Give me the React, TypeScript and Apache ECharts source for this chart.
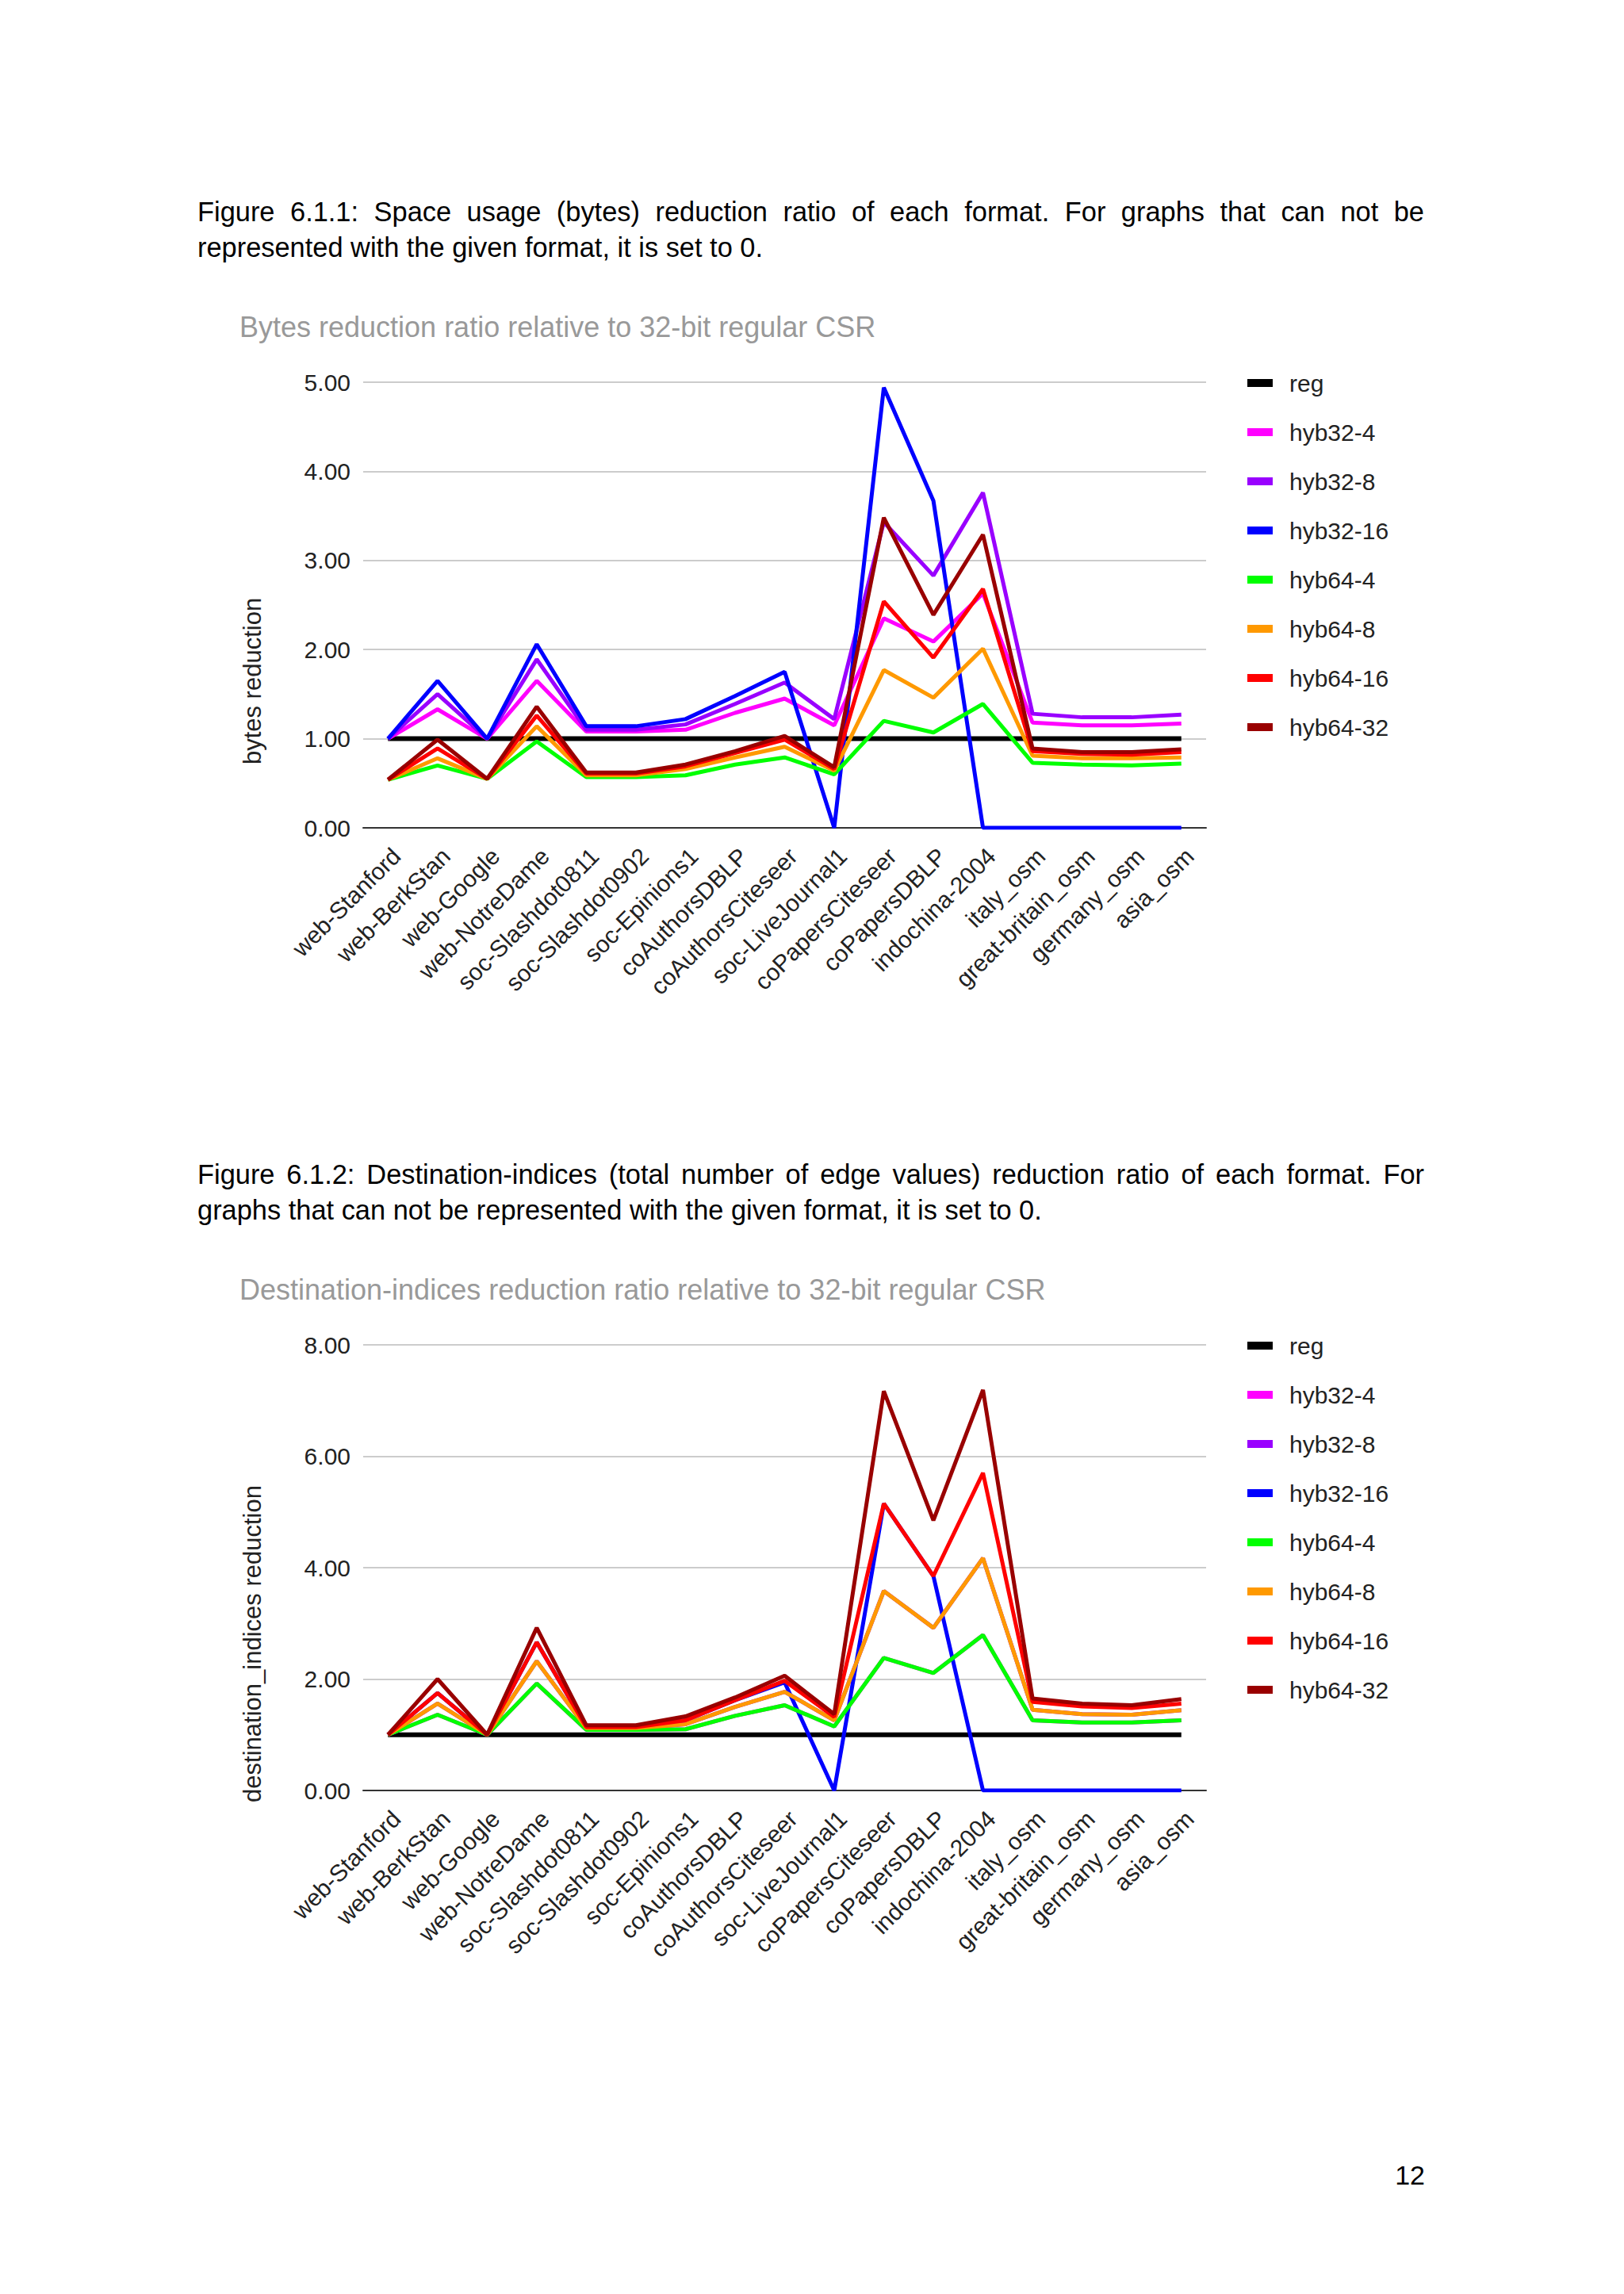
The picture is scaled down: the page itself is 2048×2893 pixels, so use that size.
import React, { useEffect, useRef } from 'react';
import * as echarts from 'echarts';

const FONT = '"Liberation Sans", Arial, sans-serif';

const categories = [
  'web-Stanford', 'web-BerkStan', 'web-Google', 'web-NotreDame', 'soc-Slashdot0811',
  'soc-Slashdot0902', 'soc-Epinions1', 'coAuthorsDBLP', 'coAuthorsCiteseer', 'soc-LiveJournal1',
  'coPapersCiteseer', 'coPapersDBLP', 'indochina-2004', 'italy_osm', 'great-britain_osm',
  'germany_osm', 'asia_osm',
];

const seriesNames = ['reg', 'hyb32-4', 'hyb32-8', 'hyb32-16', 'hyb64-4', 'hyb64-8', 'hyb64-16', 'hyb64-32'];
const seriesColors = ['#000000', '#ff00ff', '#9900ff', '#0000ff', '#00ff00', '#ff9900', '#ff0000', '#990000'];

// Figure 6.1.1 - bytes reduction
const bytesReg = [1, 1, 1, 1, 1, 1, 1, 1, 1, 1, 1, 1, 1, 1, 1, 1, 1];
const bytesHyb32_4 = [1.00, 1.33, 1.00, 1.65, 1.08, 1.08, 1.10, 1.29, 1.45, 1.15, 2.35, 2.09, 2.63, 1.18, 1.15, 1.15, 1.17];
const bytesHyb32_8 = [1.00, 1.50, 1.00, 1.89, 1.10, 1.10, 1.16, 1.39, 1.63, 1.22, 3.43, 2.83, 3.76, 1.28, 1.24, 1.24, 1.27];
const bytesHyb32_16 = [1.00, 1.65, 1.00, 2.06, 1.14, 1.14, 1.22, 1.48, 1.75, 0, 4.94, 3.67, 0, 0, 0, 0, 0];
const bytesHyb64_4 = [0.54, 0.70, 0.55, 0.97, 0.57, 0.57, 0.59, 0.71, 0.79, 0.60, 1.20, 1.07, 1.39, 0.73, 0.71, 0.70, 0.72];
const bytesHyb64_8 = [0.54, 0.78, 0.55, 1.14, 0.59, 0.59, 0.66, 0.79, 0.91, 0.64, 1.77, 1.46, 2.01, 0.81, 0.78, 0.78, 0.79];
const bytesHyb64_16 = [0.54, 0.89, 0.55, 1.26, 0.61, 0.61, 0.69, 0.84, 0.99, 0.66, 2.54, 1.91, 2.68, 0.86, 0.83, 0.82, 0.85];
const bytesHyb64_32 = [0.54, 0.99, 0.55, 1.36, 0.62, 0.62, 0.71, 0.86, 1.03, 0.68, 3.48, 2.39, 3.29, 0.89, 0.85, 0.85, 0.88];

// Figure 6.1.2 - destination indices reduction
const destReg = [1, 1, 1, 1, 1, 1, 1, 1, 1, 1, 1, 1, 1, 1, 1, 1, 1];
const destHyb32_4 = [1.00, 1.36, 1.00, 1.92, 1.09, 1.09, 1.10, 1.34, 1.53, 1.15, 2.38, 2.11, 2.79, 1.26, 1.22, 1.22, 1.26];
const destHyb32_8 = [1.00, 1.56, 1.00, 2.32, 1.12, 1.12, 1.19, 1.50, 1.77, 1.26, 3.58, 2.92, 4.17, 1.45, 1.37, 1.36, 1.44];
const destHyb32_16 = [1.00, 1.75, 1.00, 2.66, 1.14, 1.14, 1.26, 1.62, 1.94, 0, 5.15, 3.85, 0, 0, 0, 0, 0];
const destHyb64_4 = [1.00, 1.36, 1.00, 1.92, 1.09, 1.09, 1.10, 1.34, 1.53, 1.15, 2.38, 2.11, 2.79, 1.26, 1.22, 1.22, 1.26];
const destHyb64_8 = [1.00, 1.56, 1.00, 2.32, 1.12, 1.12, 1.19, 1.50, 1.77, 1.26, 3.58, 2.92, 4.17, 1.45, 1.37, 1.36, 1.44];
const destHyb64_16 = [1.00, 1.75, 1.00, 2.66, 1.14, 1.14, 1.26, 1.62, 1.97, 1.32, 5.15, 3.85, 5.70, 1.59, 1.51, 1.48, 1.56];
const destHyb64_32 = [1.00, 2.00, 1.00, 2.92, 1.17, 1.17, 1.33, 1.67, 2.06, 1.37, 7.17, 4.85, 7.19, 1.65, 1.56, 1.53, 1.64];

const bytesSeries = [bytesReg, bytesHyb32_4, bytesHyb32_8, bytesHyb32_16, bytesHyb64_4, bytesHyb64_8, bytesHyb64_16, bytesHyb64_32];
const destSeries = [destReg, destHyb32_4, destHyb32_8, destHyb32_16, destHyb64_4, destHyb64_8, destHyb64_16, destHyb64_32];

interface ChartProps {
  top: number;
  title: string;
  yName: string;
  yMax: number;
  yInterval: number;
  values: number[][];
}

const ReductionChart: React.FC<ChartProps> = ({ top, title, yName, yMax, yInterval, values }) => {
  const chartRef = useRef<HTMLDivElement>(null);

  useEffect(() => {
    if (!chartRef.current) return;
    const chart = echarts.init(chartRef.current, undefined, { renderer: 'svg' });

    const option: any = {
      animation: false,
      textStyle: { fontFamily: FONT },
      graphic: [
        {
          type: 'text',
          x: 302,
          y: 52,
          style: { text: title, fill: '#999999', font: `36px ${FONT}`, align: 'left', verticalAlign: 'middle' },
        },
        {
          type: 'text',
          x: 318,
          y: 499,
          rotation: Math.PI / 2,
          style: { text: yName, fill: '#222222', font: `31px ${FONT}`, align: 'center', verticalAlign: 'middle' },
        },
      ],
      legend: {
        orient: 'vertical',
        left: 1568,
        top: 103,
        itemWidth: 32,
        itemHeight: 10,
        itemGap: 32,
        icon: 'rect',
        selectedMode: false,
        textStyle: { fontSize: 30, color: '#222222', lineHeight: 30, padding: [0, 0, 0, 16], fontFamily: FONT },
        data: seriesNames,
      },
      grid: { left: 458, top: 122, width: 1063, height: 562 },
      xAxis: {
        type: 'category',
        data: categories,
        boundaryGap: true,
        axisLine: { lineStyle: { color: '#333333', width: 2 } },
        axisTick: { show: false },
        axisLabel: {
          interval: 0,
          rotate: 45,
          fontSize: 30,
          color: '#222222',
          margin: 20,
          verticalAlign: 'top',
          fontFamily: FONT,
        },
      },
      yAxis: {
        type: 'value',
        min: 0,
        max: yMax,
        interval: yInterval,
        axisLine: { show: false },
        axisTick: { show: false },
        splitLine: { lineStyle: { color: '#cccccc', width: 2 } },
        axisLabel: {
          fontSize: 30,
          color: '#222222',
          margin: 16,
          fontFamily: FONT,
          formatter: (v: number) => v.toFixed(2),
        },
      },
      series: seriesNames.map((name, i) => ({
        name,
        type: 'line',
        data: values[i],
        symbol: 'none',
        showSymbol: false,
        color: seriesColors[i],
        lineStyle: { color: seriesColors[i], width: i === 0 ? 6 : 5 },
        emphasis: { disabled: true },
      })),
    };

    chart.setOption(option);
    return () => {
      chart.dispose();
    };
  }, [top, title, yName, yMax, yInterval, values]);

  return (
    <div
      ref={chartRef}
      style={{ position: 'absolute', left: 0, top, width: 2048, height: 1100 }}
    />
  );
};

const captionStyle: React.CSSProperties = {
  position: 'absolute',
  left: 249,
  width: 1547,
  fontFamily: FONT,
  fontSize: 34.4,
  lineHeight: '45px',
  color: '#000000',
};

const justifiedLine: React.CSSProperties = {
  textAlign: 'justify',
  textAlignLast: 'justify',
};

const App: React.FC = () => {
  return (
    <div style={{ position: 'absolute', left: 0, top: 0, width: 2048, height: 2893, background: '#ffffff', overflow: 'hidden' }}>
      <div style={{ ...captionStyle, top: 245 }}>
        <div style={justifiedLine}>
          Figure 6.1.1: Space usage (bytes) reduction ratio of each format. For graphs that can not be
        </div>
        <div>represented with the given format, it is set to 0.</div>
      </div>
      <ReductionChart
        top={360}
        title="Bytes reduction ratio relative to 32-bit regular CSR"
        yName="bytes reduction"
        yMax={5}
        yInterval={1}
        values={bytesSeries}
      />
      <div style={{ ...captionStyle, top: 1459 }}>
        <div style={justifiedLine}>
          Figure 6.1.2: Destination-indices (total number of edge values) reduction ratio of each format. For
        </div>
        <div>graphs that can not be represented with the given format, it is set to 0.</div>
      </div>
      <ReductionChart
        top={1574}
        title="Destination-indices reduction ratio relative to 32-bit regular CSR"
        yName="destination_indices reduction"
        yMax={8}
        yInterval={2}
        values={destSeries}
      />
      <div
        style={{
          position: 'absolute',
          left: 1597,
          width: 200,
          top: 2721,
          textAlign: 'right',
          fontFamily: FONT,
          fontSize: 34,
          lineHeight: '45px',
          color: '#000000',
        }}
      >
        12
      </div>
    </div>
  );
};

export default App;
